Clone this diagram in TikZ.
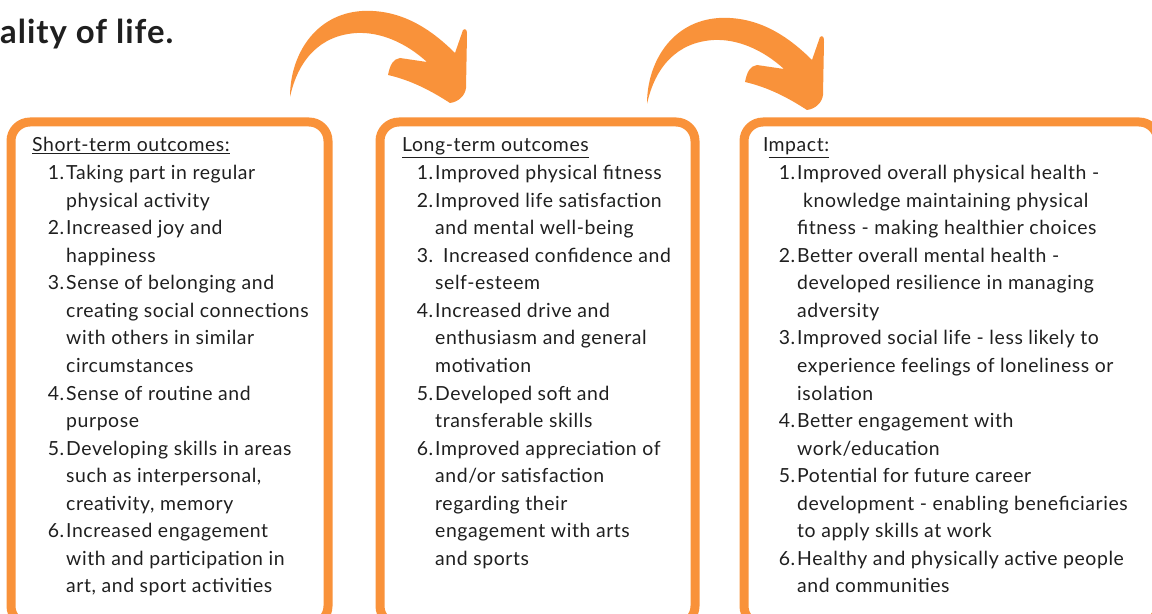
\documentclass[tikz,border=0pt]{standalone}
\usepackage{fontspec}
\setmainfont[LetterSpace=3]{Lato}
\newcommand{\no}[1]{\llap{#1\hspace{2bp}}}

\begin{document}
\begin{tikzpicture}[
		x=1bp, y=-1bp,
		%Option for the orange frames
		frame/.style={draw=#1, line width=9bp, rounded corners=19bp},
		swoosh/.style={fill=#1},
		txt/.style={anchor=base west, inner sep=0pt, text=ink, font=\fontsize{19.5}{23}\selectfont},
		head/.style={txt},
		title/.style={anchor=base west, inner sep=0pt, text=ink, font=\fontsize{33}{38}\selectfont\bfseries},
	]
		% Colors
		\definecolor{brandorange}{HTML}{F9923A}
		\colorlet{ink}{black!88}

		% Page
		\useasboundingbox (0,0) rectangle (1152,614);
		\clip (0,0) rectangle (1152,614);

		\node[title] (quality) at (0,44) {ality of life.};

		% Bent arrows
		\foreach \dx/\dy in {0/0, 357/7} {
			\begin{scope}[shift={(\dx,\dy)}]
				\fill[swoosh=brandorange] (290,97) .. controls (290,55) and (315,14) .. (362,11)
					.. controls (400,9) and (430,28) .. (455,53)
					-- (463,30) .. controls (466,28) and (467,30) .. (467,35)
					-- (466,88) .. controls (465,96) and (458,102) .. (450,103)
					.. controls (430,90) and (410,80) .. (388,75)
					.. controls (390,65) and (393,59) .. (400,58)
					-- (427,62)
					.. controls (405,42) and (380,32) .. (357,33)
					.. controls (320,35) and (298,60) .. (290,97) -- cycle;
			\end{scope}
		}

		% Frames
		\draw[frame=brandorange] (11,122) rectangle (328,625);
		\draw[frame=brandorange] (380,122) rectangle (695,625);
		\draw[frame=brandorange] (744,122) rectangle (1158,625);

		% Short-term outcomes
		\node[head] (shorthead) at (32,152) {\underline{Short-term outcomes:}};
		\foreach \ln [count=\i from 0] in {
			{\no{1.}Taking part in regular}, {physical activity},
			{\no{2.}Increased joy and}, {happiness},
			{\no{3.}Sense of belonging and}, {creating social connections},
			{with others in similar}, {circumstances},
			{\no{4.}Sense of routine and}, {purpose},
			{\no{5.}Developing skills in areas}, {such as interpersonal,},
			{creativity, memory},
			{\no{6.}Increased engagement}, {with and participation in},
			{art, and sport activities}}
			\node[txt] (short\i) at (66,180+27.5*\i) {\ln};

		% Long-term outcomes
		\node[head] (longhead) at (402,152) {\underline{Long-term outcomes}};
		\foreach \ln [count=\i from 0] in {
			{\no{1.}Improved physical fitness},
			{\no{2.}Improved life satisfaction}, {and mental well-being},
			{\no{3.}\hspace*{8bp}Increased confidence and}, {self-esteem},
			{\no{4.}Increased drive and}, {enthusiasm and general},
			{motivation},
			{\no{5.}Developed soft and}, {transferable skills},
			{\no{6.}Improved appreciation of}, {and/or satisfaction},
			{regarding their}, {engagement with arts}, {and sports}}
			\node[txt] (long\i) at (435,180+27.5*\i) {\ln};

		% Impact
		\node[head] (impacthead) at (763,152) {I\underline{mpact:}};
		\foreach \ln [count=\i from 0] in {
			{\no{1.}Improved overall physical health -},
			{\hspace*{6bp}knowledge maintaining physical},
			{fitness - making healthier choices},
			{\no{2.}Better overall mental health -},
			{developed resilience in managing}, {adversity},
			{\no{3.}Improved social life - less likely to},
			{experience feelings of loneliness or}, {isolation},
			{\no{4.}Better engagement with}, {work/education},
			{\no{5.}Potential for future career},
			{development - enabling beneficiaries},
			{to apply skills at work},
			{\no{6.}Healthy and physically active people},
			{and communities}}
			\node[txt] (impact\i) at (797,180+27.5*\i) {\ln};
\end{tikzpicture}
\end{document}
